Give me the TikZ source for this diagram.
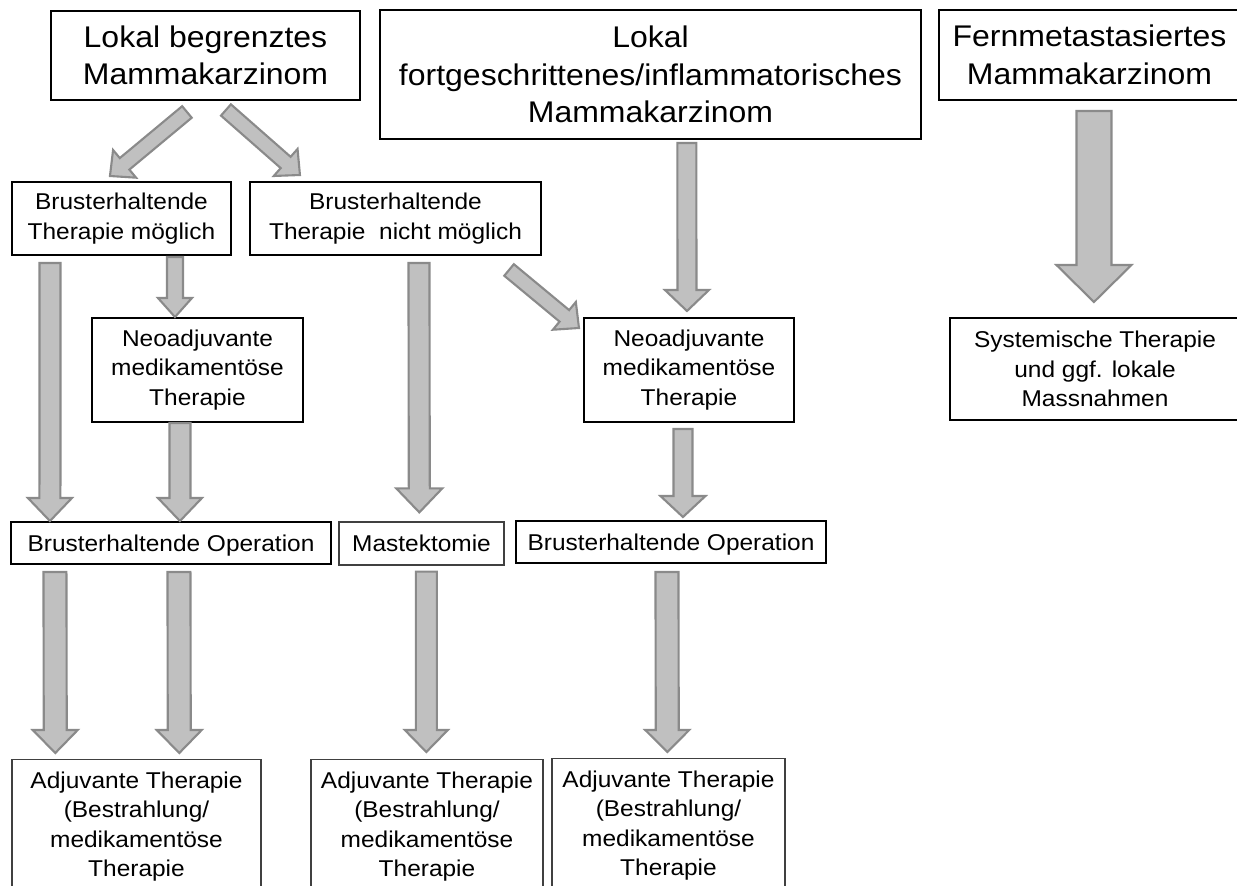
\documentclass[tikz,border=0pt]{standalone}
\usepackage{fontspec}
\setmainfont{Liberation Sans}[FakeStretch=1.07]
\usetikzlibrary{calc}

\definecolor{arrowfill}{HTML}{C0C0C0}
\definecolor{arrowline}{HTML}{8A8A8A}

\tikzset{
  box/.style={draw, line width=0.55pt, fill=white, align=center, inner sep=0pt,
    font=\fontsize{6.5}{8.4}\selectfont},
  bigbox/.style={box, font=\fontsize{8.5}{10.7}\selectfont},
  thinbox/.style={box, draw=black!75, line width=0.35pt},
  adjbox/.style={thinbox, anchor=north, inner ysep=0.12cm},
  blockarrow/.style={fill=arrowfill, draw=arrowline, line width=0.6pt},
}

% block arrow: shaft half width, head half width, head length (px), from, to
\newcommand{\fatarrow}[5]{%
  \coordinate (fa-s) at #4;
  \coordinate (fa-t) at #5;
  \draw[blockarrow] ($(fa-s)!{#1*0.01cm}!90:(fa-t)$)
    -- ($(fa-t)!{#3*0.01cm}!(fa-s)!{#1*0.01cm}!-90:(fa-s)$)
    -- ($(fa-t)!{#3*0.01cm}!(fa-s)!{#2*0.01cm}!-90:(fa-s)$)
    -- (fa-t)
    -- ($(fa-t)!{#3*0.01cm}!(fa-s)!{#2*0.01cm}!90:(fa-s)$)
    -- ($(fa-t)!{#3*0.01cm}!(fa-s)!{#1*0.01cm}!90:(fa-s)$)
    -- ($(fa-s)!{#1*0.01cm}!-90:(fa-t)$) -- cycle;
}

\begin{document}
\begin{tikzpicture}[x=0.01cm, y=-0.01cm]
    \useasboundingbox (0,0) rectangle (1237,886);
    \clip (0,0) rectangle (1237,886);

    % Diagnosis row
    \node[bigbox, minimum width=3.09cm, minimum height=0.89cm] (lokal) at (205.5,55.5) {Lokal begrenztes\\Mammakarzinom};
    \node[bigbox, minimum width=5.41cm, minimum height=1.29cm] (fortg) at (650.5,74.5) {Lokal\\fortgeschrittenes/inflammatorisches\\Mammakarzinom};
    \node[bigbox, minimum width=3.01cm, minimum height=0.90cm] (fern) at (1089.5,55) {Fernmetastasiertes\\Mammakarzinom};

    % Second row
    \node[box, minimum width=2.19cm, minimum height=0.73cm] (bet) at (121.5,218.5) {Brusterhaltende\\Therapie möglich};
    \node[box, minimum width=2.91cm, minimum height=0.73cm] (keinbet) at (395.5,218.5) {Brusterhaltende\\Therapie\ \ nicht möglich};

    % Neoadjuvant / systemic
    \node[box, minimum width=2.11cm, minimum height=1.04cm] (neoL) at (197.5,370) {Neoadjuvante\\medikamentöse\\Therapie};
    \node[box, minimum width=2.10cm, minimum height=1.04cm] (neoR) at (689,370) {Neoadjuvante\\medikamentöse\\Therapie};
    \node[box, minimum width=2.90cm, minimum height=1.02cm] (system) at (1095,369) {Systemische Therapie\\und ggf. lokale\\Massnahmen};

    % Surgery
    \node[box, minimum width=3.20cm, minimum height=0.42cm, text depth=0pt] (opL) at (171,543) {Brusterhaltende Operation};
    \node[thinbox, minimum width=1.65cm, minimum height=0.43cm] (mast) at (421.5,543.5) {Mastektomie};
    \node[box, minimum width=3.10cm, minimum height=0.42cm, text depth=0pt] (opR) at (671,542) {Brusterhaltende Operation};

    % Adjuvant therapy (cut at the bottom)
    \node[adjbox, minimum width=2.49cm] (adjL) at (136.5,759) {Adjuvante Therapie\\(Bestrahlung/\\medikamentöse\\Therapie};
    \node[adjbox, minimum width=2.32cm] (adjM) at (427,759) {Adjuvante Therapie\\(Bestrahlung/\\medikamentöse\\Therapie};
    \node[adjbox, minimum width=2.33cm] (adjR) at (668.5,758) {Adjuvante Therapie\\(Bestrahlung/\\medikamentöse\\Therapie};

    % Arrows from the diagnoses
    \fatarrow{7.5}{18}{19}{($(lokal.south west)+(137,11)$)}{($(bet.north west)+(99,-5)$)}
    \fatarrow{7.5}{18}{19}{($(lokal.south west)+(176,9)$)}{($(keinbet.north west)+(51,-6)$)}
    \fatarrow{9.5}{22}{21}{($(fortg.south west)+(308,3)$)}{($(neoR.north west)+(104,-6)$)}
    \fatarrow{17.5}{37.5}{37}{($(fern.south west)+(156,10)$)}{($(system.north west)+(145,-15)$)}

    % Arrows to neoadjuvant therapy and surgery
    \fatarrow{10.5}{22}{23}{($(bet.south west)+(39,7)$)}{($(opL.north west)+(40,0)$)}
    \fatarrow{8}{17}{19}{($(bet.south west)+(164,1)$)}{($(neoL.north west)+(84,0)$)}
    \fatarrow{10.5}{22}{23}{($(neoL.south west)+(89,0)$)}{($(opL.north west)+(170,0)$)}
    \fatarrow{10.5}{23}{24}{($(keinbet.south west)+(170,7)$)}{($(mast.north west)+(81,-9)$)}
    \fatarrow{7.5}{18}{19}{($(keinbet.south east)+(-33,14)$)}{($(neoR.north west)+(-4,11)$)}
    \fatarrow{9.5}{22.5}{21}{($(neoR.south west)+(100,6)$)}{($(opR.north west)+(168,-3)$)}

    % Arrows to adjuvant therapy
    \fatarrow{11.5}{22.5}{23}{($(opL.south west)+(45,7)$)}{($(adjL.north west)+(44,-6)$)}
    \fatarrow{11.5}{22.5}{23}{($(opL.south west)+(169,7)$)}{($(adjL.north west)+(168,-6)$)}
    \fatarrow{10.5}{21.5}{22}{($(mast.south west)+(88,6)$)}{($(adjM.north west)+(116,-7)$)}
    \fatarrow{11.5}{22}{22}{($(opR.south west)+(152,8)$)}{($(adjR.north west)+(116,-6)$)}
\end{tikzpicture}
\end{document}
